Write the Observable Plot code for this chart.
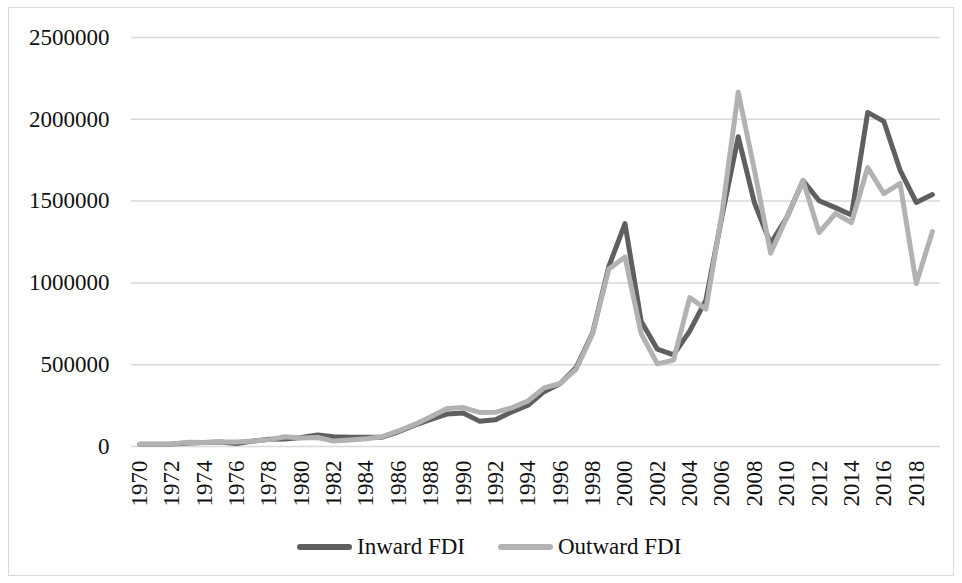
<!DOCTYPE html>
<html>
<head>
<meta charset="utf-8">
<script src="https://cdn.jsdelivr.net/npm/d3@7"></script>
<script src="https://cdn.jsdelivr.net/npm/@observablehq/plot@0.6"></script>
<style>
  html, body { margin: 0; padding: 0; background: #fff; }
  #wrap { position: relative; width: 962px; height: 583px; overflow: hidden; font-family: "Liberation Serif", "Times New Roman", serif; }
  #frame { position: absolute; left: 8px; top: 7px; width: 946px; height: 569px; border: 1.5px solid #d9d9d9; box-sizing: border-box; pointer-events: none; }
  .leg { position: absolute; top: 534px; display: flex; align-items: center; font-size: 23px; color: #111; }
  .sw { width: 55px; height: 6px; border-radius: 3px; margin-right: 5px; }
</style>
</head>
<body>
<div id="wrap">
  <div id="chart"></div>
  <div id="frame"></div>
</div>
<script>
const years = [1970,1971,1972,1973,1974,1975,1976,1977,1978,1979,
  1980,1981,1982,1983,1984,1985,1986,1987,1988,1989,
  1990,1991,1992,1993,1994,1995,1996,1997,1998,1999,
  2000,2001,2002,2003,2004,2005,2006,2007,2008,2009,
  2010,2011,2012,2013,2014,2015,2016,2017,2018,2019];

const inwardFDI = [13000,14000,15000,21000,25000,27000,18000,33000,44000,46000,
  55000,70000,60000,56000,57000,57000,90000,130000,165000,198000,
  205000,155000,163000,212000,252000,335000,385000,485000,695000,1100000,
  1362000,765000,595000,560000,705000,895000,1410000,1893000,1490000,1240000,
  1400000,1625000,1502000,1460000,1415000,2042000,1987000,1690000,1492000,1540000];

const outwardFDI = [14000,13000,15000,26000,24000,27000,28000,33000,42000,60000,
  52000,55000,33000,40000,48000,60000,95000,135000,182000,232000,
  238000,208000,210000,236000,278000,358000,385000,475000,690000,1085000,
  1158000,690000,505000,528000,910000,840000,1430000,2165000,1690000,1182000,
  1400000,1626000,1308000,1424000,1369000,1705000,1546000,1608000,996000,1314000];

const seriesNames = ["Inward FDI", "Outward FDI"];
const seriesColors = ["#5f5f5f", "#b2b2b2"];
const yTicks = [0, 500000, 1000000, 1500000, 2000000, 2500000];
const xTicks = years.filter(y => y % 2 === 0);

const data = [];
[inwardFDI, outwardFDI].forEach((vals, i) => {
  vals.forEach((v, j) => data.push({year: years[j], value: v, series: seriesNames[i]}));
});

const chart = Plot.plot({
  width: 962,
  height: 583,
  marginLeft: 131,
  marginRight: 22,
  marginTop: 37,
  marginBottom: 137,
  style: {fontFamily: "'Liberation Serif', 'Times New Roman', serif", fontSize: "23px", color: "#111", background: "transparent"},
  x: {domain: [1969.5, 2019.5], ticks: xTicks, tickFormat: d => String(d), tickSize: 0, tickPadding: 14, tickRotate: -90, label: null},
  y: {domain: [0, 2500000], ticks: yTicks, tickFormat: d => String(d), tickSize: 0, tickPadding: 22, label: null},
  color: {domain: seriesNames, range: seriesColors},
  marks: [
    Plot.gridY(yTicks, {stroke: "#d9d9d9", strokeOpacity: 1, strokeWidth: 1.5}),
    Plot.axisX({ticks: xTicks, tickFormat: d => String(d), tickSize: 0, tickPadding: 14, tickRotate: -90, label: null}),
    Plot.axisY({ticks: yTicks, tickFormat: d => String(d), tickSize: 0, tickPadding: 22, label: null}),
    Plot.line(data, {x: "year", y: "value", z: "series", stroke: "series", strokeWidth: 5, strokeLinejoin: "round", strokeLinecap: "round"})
  ]
});
document.getElementById("chart").appendChild(chart);

const wrap = document.getElementById("wrap");
const legendLeft = [297, 498];
seriesNames.forEach((name, i) => {
  const item = document.createElement("div");
  item.className = "leg";
  item.style.left = legendLeft[i] + "px";
  const sw = document.createElement("div");
  sw.className = "sw";
  sw.style.background = seriesColors[i];
  const tx = document.createElement("span");
  tx.textContent = name;
  item.appendChild(sw);
  item.appendChild(tx);
  wrap.appendChild(item);
});
</script>
</body>
</html>
